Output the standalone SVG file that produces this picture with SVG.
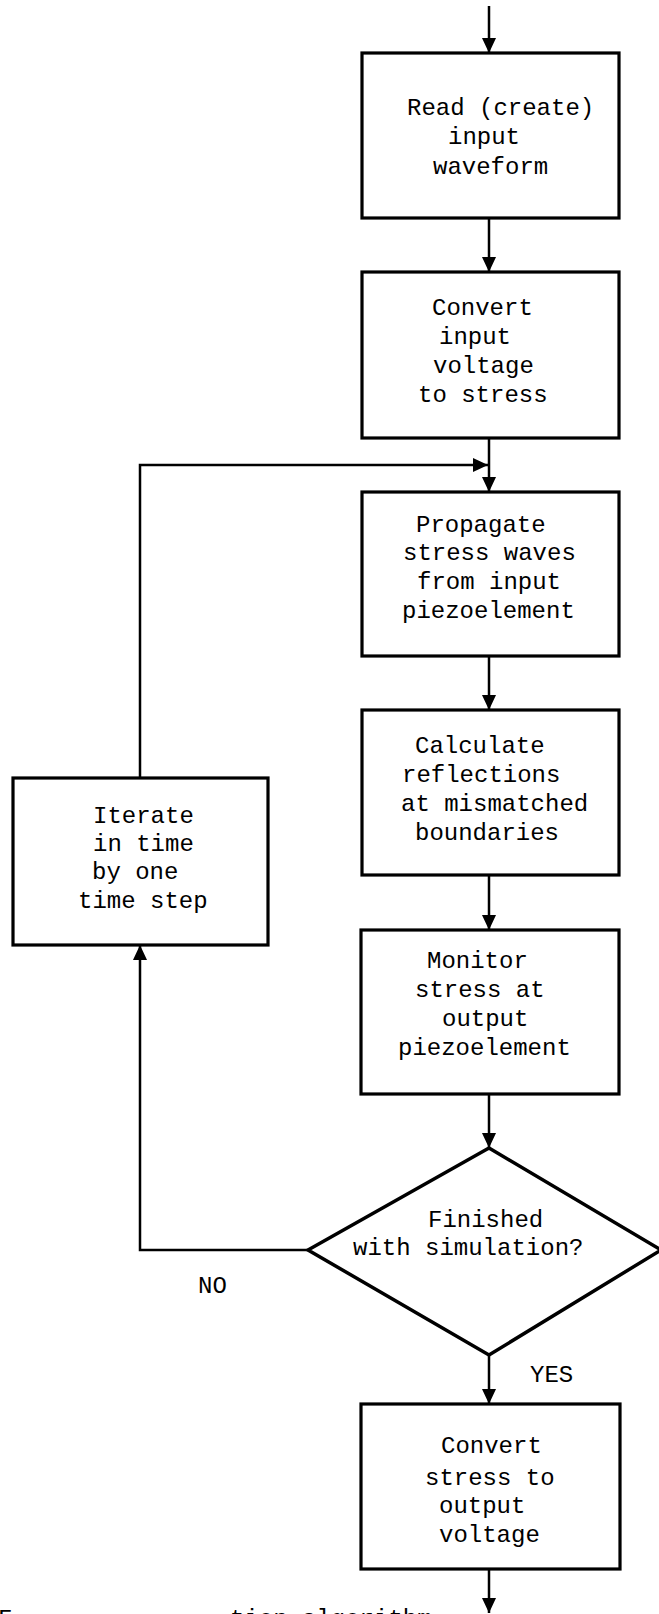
<svg xmlns="http://www.w3.org/2000/svg" width="659" height="1614" viewBox="0 0 659 1614">
<style>
.box{fill:#fff;stroke:#000;stroke-width:3.2}
.dia{fill:#fff;stroke:#000;stroke-width:3.5;stroke-linejoin:miter}
.ln{fill:none;stroke:#000;stroke-width:2.5}
text{font-family:"Liberation Mono","Courier New",monospace;font-size:24px;fill:#000}
</style>
<defs>
<marker id="arr" viewBox="0 0 15 14" refX="15" refY="7" markerWidth="15" markerHeight="14" orient="auto" markerUnits="userSpaceOnUse">
<path d="M0,0 L15,7 L0,14 z" fill="#000"/>
</marker>
</defs>
<rect width="659" height="1614" fill="#fff"/>
<g id="connectors">
<path class="ln" d="M489,6 V53" marker-end="url(#arr)"/>
<path class="ln" d="M489,218 V272" marker-end="url(#arr)"/>
<path class="ln" d="M489,438 V492" marker-end="url(#arr)"/>
<path class="ln" d="M140,778 V465 H488" marker-end="url(#arr)"/>
<path class="ln" d="M489,656 V710" marker-end="url(#arr)"/>
<path class="ln" d="M489,875 V930" marker-end="url(#arr)"/>
<path class="ln" d="M489,1094 V1148" marker-end="url(#arr)"/>
<path class="ln" d="M308,1250 H140 V945" marker-end="url(#arr)"/>
<path class="ln" d="M489,1355 V1404" marker-end="url(#arr)"/>
<path class="ln" d="M489,1569 V1613" marker-end="url(#arr)"/>
<text x="198" y="1293">NO</text>
<text x="530" y="1382">YES</text>
</g>
<g id="n1">
<rect class="box" x="362" y="53" width="257" height="165"/>
<text x="407" y="115">Read (create)</text>
<text x="448" y="144">input</text>
<text x="433" y="174">waveform</text>
</g>
<g id="n2">
<rect class="box" x="362" y="272" width="257" height="166"/>
<text x="432" y="315">Convert</text>
<text x="439" y="344">input</text>
<text x="433" y="373">voltage</text>
<text x="418" y="402">to stress</text>
</g>
<g id="n3">
<rect class="box" x="362" y="492" width="257" height="164"/>
<text x="416" y="532">Propagate</text>
<text x="403" y="560">stress waves</text>
<text x="417" y="589">from input</text>
<text x="402" y="618">piezoelement</text>
</g>
<g id="n4">
<rect class="box" x="362" y="710" width="257" height="165"/>
<text x="415" y="753">Calculate</text>
<text x="402" y="782">reflections</text>
<text x="401" y="811">at mismatched</text>
<text x="415" y="840">boundaries</text>
</g>
<g id="n5">
<rect class="box" x="13" y="778" width="255" height="167"/>
<text x="93" y="823">Iterate</text>
<text x="93" y="851">in time</text>
<text x="92" y="879">by one</text>
<text x="78" y="908">time step</text>
</g>
<g id="n6">
<rect class="box" x="361" y="930" width="258" height="164"/>
<text x="427" y="968">Monitor</text>
<text x="415" y="997">stress at</text>
<text x="442" y="1026">output</text>
<text x="398" y="1055">piezoelement</text>
</g>
<g id="n7">
<polygon class="dia" points="489,1148 661,1250 489,1355 308,1250"/>
<text x="428" y="1227">Finished</text>
<text x="353" y="1255">with simulation?</text>
</g>
<g id="n8">
<rect class="box" x="361" y="1404" width="259" height="165"/>
<text x="441" y="1453">Convert</text>
<text x="425" y="1485">stress to</text>
<text x="439" y="1513">output</text>
<text x="439" y="1542">voltage</text>
</g>
<g id="caption">
<text x="-2" y="1626">F</text>
<text x="230" y="1626">tion algorithm</text>
</g>
</svg>
